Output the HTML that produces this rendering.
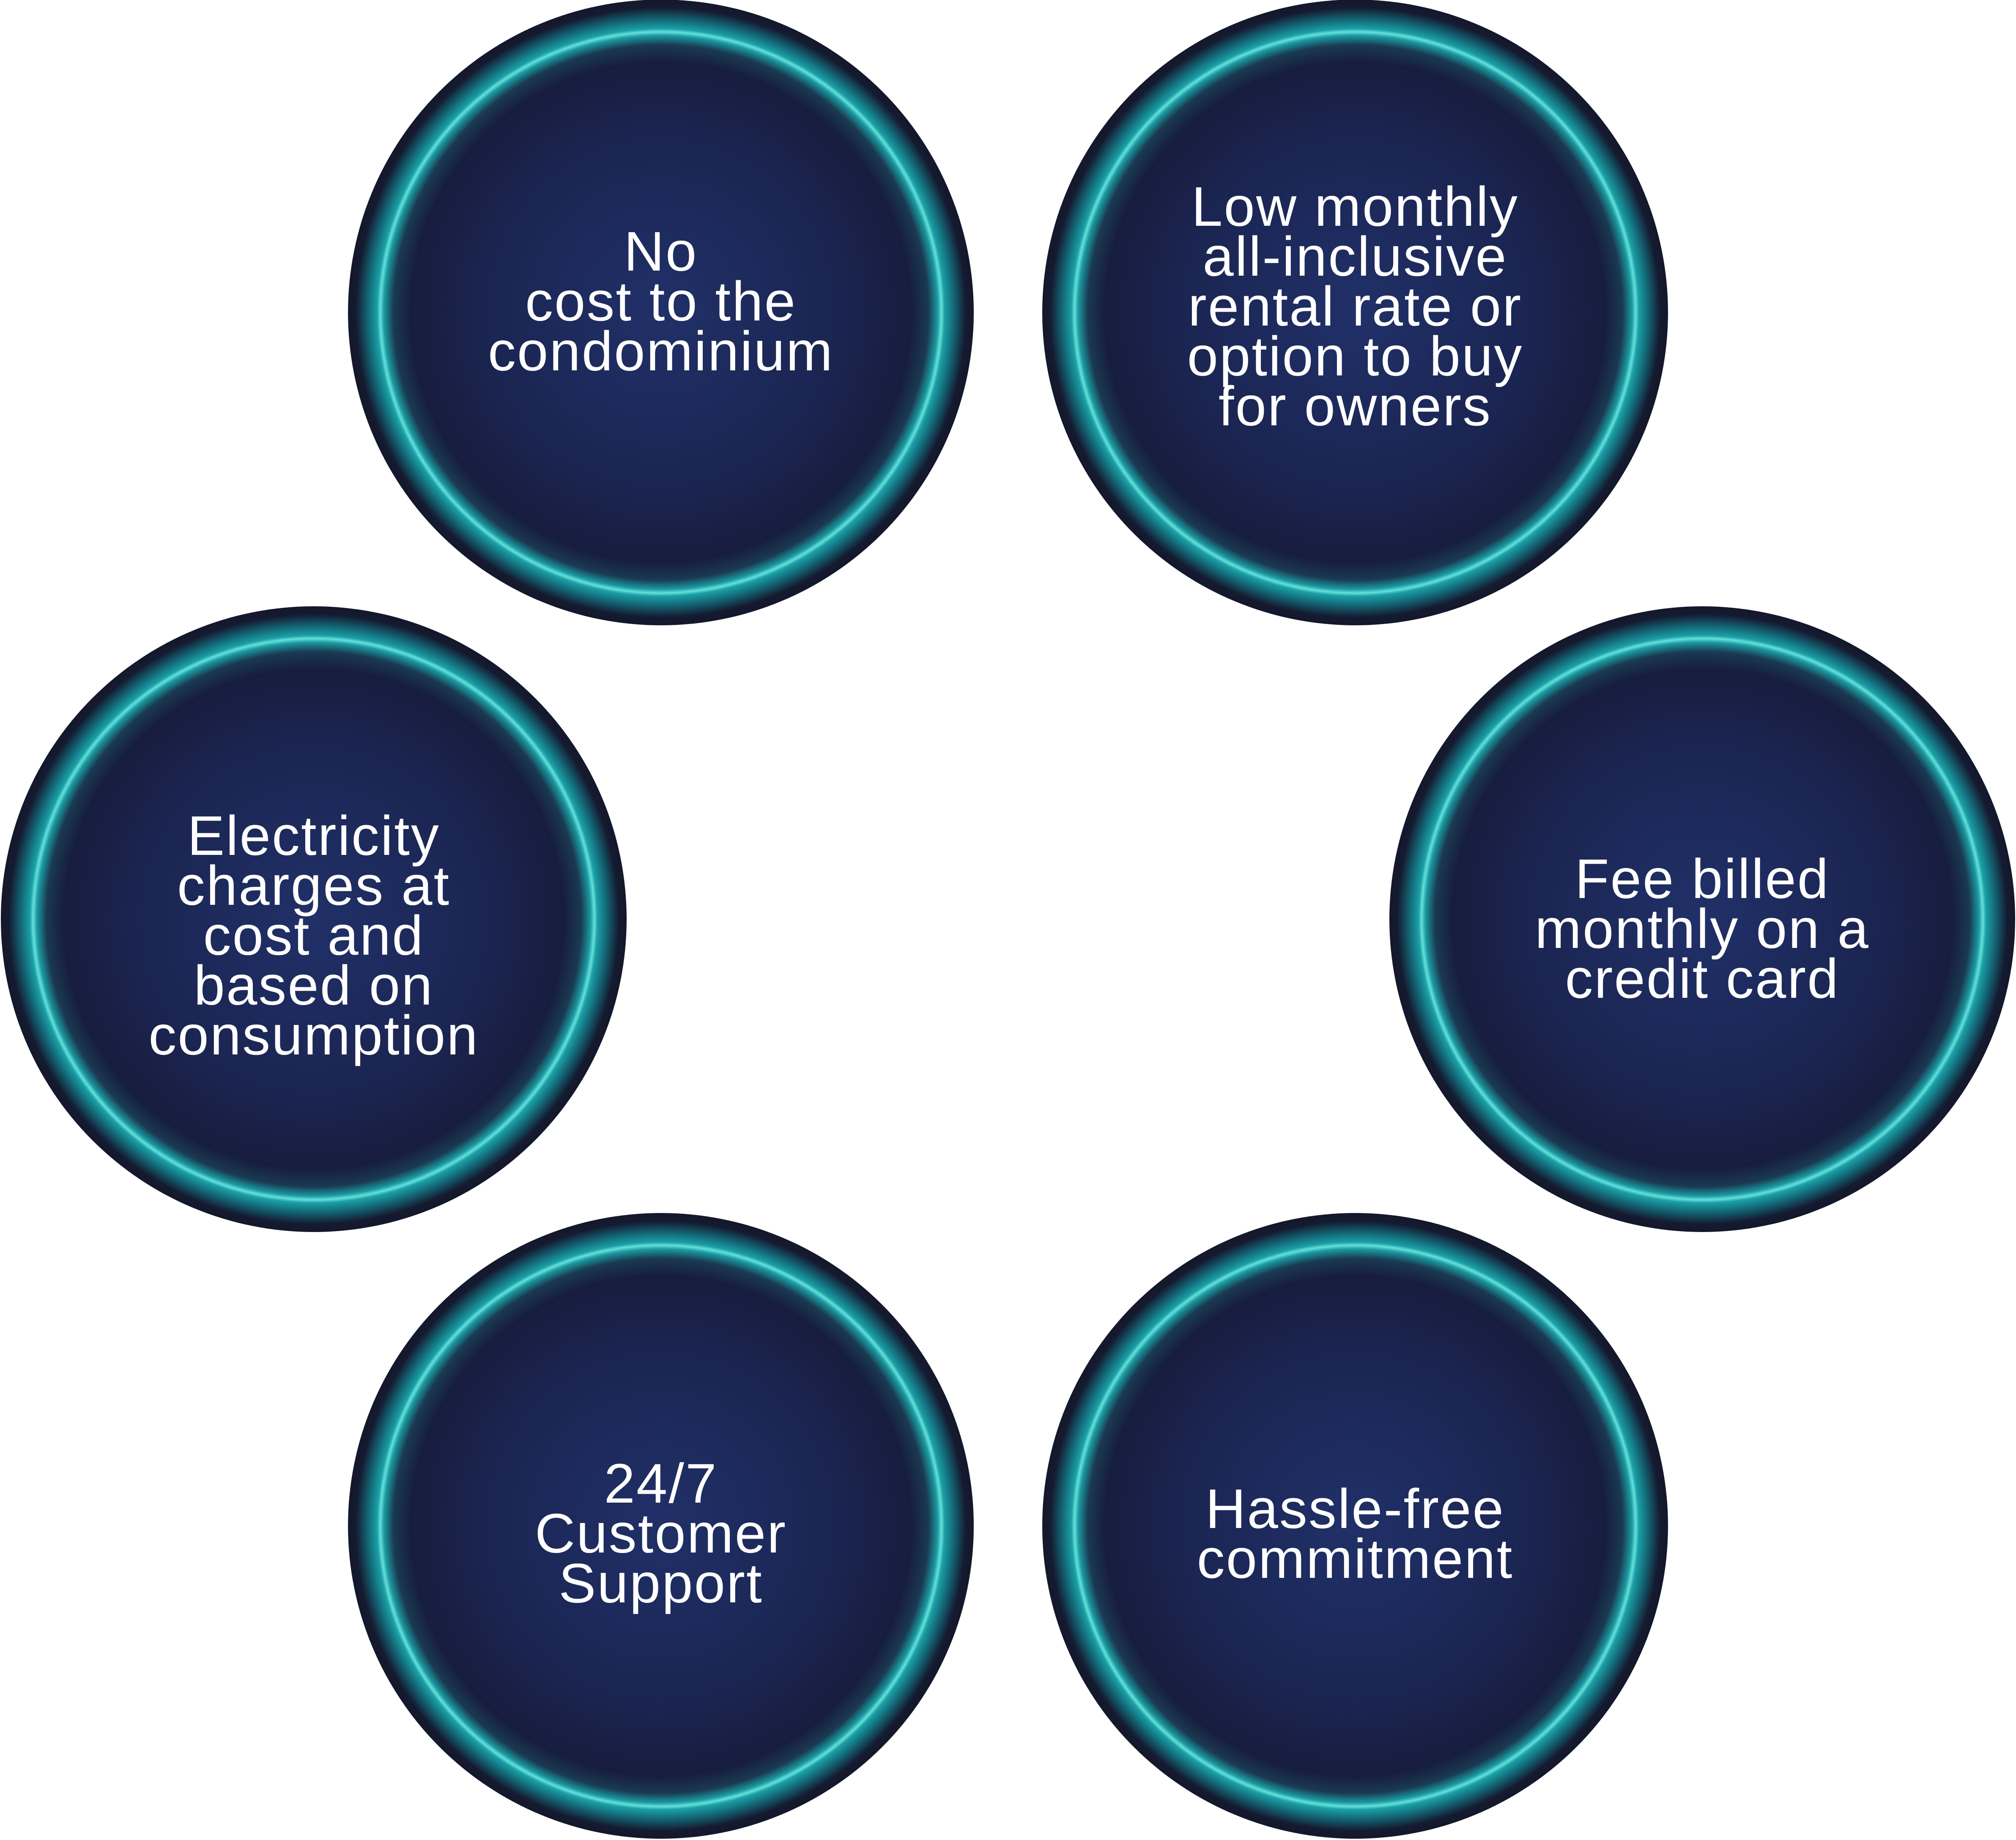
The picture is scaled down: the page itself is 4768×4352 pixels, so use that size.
<!DOCTYPE html>
<html><head><meta charset="utf-8"><style>
html,body{margin:0;padding:0;background:#fff;}
svg{display:block;}
text{font-family:"Liberation Sans",sans-serif;fill:#fff;font-size:132px;letter-spacing:3px;text-anchor:middle;}
</style></head><body>
<svg width="4768" height="4352" viewBox="0 0 4768 4352" xmlns="http://www.w3.org/2000/svg">
<defs>
<radialGradient id="g" cx="0.5" cy="0.5" r="0.5">
<stop offset="0" stop-color="#203068"/>
<stop offset="0.55" stop-color="#1b2552"/>
<stop offset="0.80" stop-color="#171d3e"/>
<stop offset="0.855" stop-color="#1a3a52"/>
<stop offset="0.885" stop-color="#1a9aa0"/>
<stop offset="0.897" stop-color="#66e0dc"/>
<stop offset="0.907" stop-color="#1aa0a6"/>
<stop offset="0.94" stop-color="#136070"/>
<stop offset="0.975" stop-color="#151a30"/>
<stop offset="1" stop-color="#14182c"/>
</radialGradient>
</defs>
<g fill="url(#g)">
<circle cx="1563" cy="739" r="740"/>
<circle cx="3205" cy="739" r="740"/>
<circle cx="742" cy="2174" r="740"/>
<circle cx="4026" cy="2174" r="740"/>
<circle cx="1563" cy="3609" r="740"/>
<circle cx="3205" cy="3609" r="740"/>
</g>
<text><tspan x="1563" y="640">No</tspan><tspan x="1563" y="758">cost to the</tspan><tspan x="1563" y="876">condominium</tspan></text>
<text><tspan x="3205" y="534">Low monthly</tspan><tspan x="3205" y="652">all-inclusive</tspan><tspan x="3205" y="770">rental rate or</tspan><tspan x="3205" y="888">option to buy</tspan><tspan x="3205" y="1006">for owners</tspan></text>
<text><tspan x="742" y="2022">Electricity</tspan><tspan x="742" y="2140">charges at</tspan><tspan x="742" y="2258">cost and</tspan><tspan x="742" y="2376">based on</tspan><tspan x="742" y="2494">consumption</tspan></text>
<text><tspan x="4026" y="2124">Fee billed</tspan><tspan x="4026" y="2242">monthly on a</tspan><tspan x="4026" y="2360">credit card</tspan></text>
<text><tspan x="1563" y="3554">24/7</tspan><tspan x="1563" y="3672">Customer</tspan><tspan x="1563" y="3790">Support</tspan></text>
<text><tspan x="3205" y="3614">Hassle-free</tspan><tspan x="3205" y="3732">commitment</tspan></text>
</svg>
</body></html>
